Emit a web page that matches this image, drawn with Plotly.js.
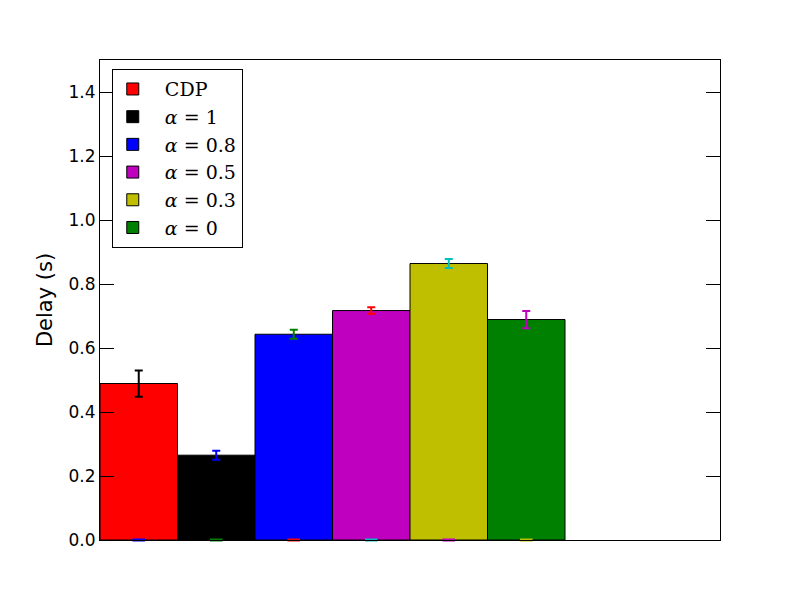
<!DOCTYPE html>
<html>
<head>
<meta charset="utf-8">
<script src="https://cdn.plot.ly/plotly-3.0.1.min.js"></script>
<style>html,body{margin:0;padding:0;background:#fff;}#chart{width:800px;height:600px;}</style>
</head>
<body>
<div id="chart"></div>
<script>
// Data
const seriesNames = ["CDP", "α = 1", "α = 0.8", "α = 0.5", "α = 0.3", "α = 0"];
const positions = [0.5, 1.5, 2.5, 3.5, 4.5, 5.5];
const delays = [0.489, 0.265, 0.643, 0.717, 0.864, 0.689];
const errors = [0.041, 0.014, 0.014, 0.010, 0.014, 0.027];
const barColors = ["#ff0000", "#000000", "#0000ff", "#bf00bf", "#bfbf00", "#008000"];
const errColors = ["#000000", "#0000ff", "#008000", "#ff0000", "#00bfbf", "#bf00bf"];
const baseMarkColors = ["#0000ff", "#008000", "#ff0000", "#00bfbf", "#bf00bf", "#bfbf00"];
const yTicks = [0.0, 0.2, 0.4, 0.6, 0.8, 1.0, 1.2, 1.4];

function legendLabel(name, i) {
  const pad = "&nbsp;&nbsp;";
  if (i === 0) return pad + name;
  const parts = name.split(" = ");
  return pad + "<i>" + parts[0] + "</i> = " + parts[1];
}

const traces = seriesNames.map((name, i) => ({
  type: "bar",
  name: legendLabel(name, i),
  x: [positions[i]],
  y: [delays[i]],
  width: 1,
  marker: {color: barColors[i], line: {color: "#000000", width: 1}},
  error_y: {type: "data", array: [errors[i]], visible: true, color: errColors[i], thickness: 2, width: 4},
  hoverinfo: "none"
}));

traces.push({
  type: "scatter",
  mode: "markers",
  x: positions,
  y: positions.map(() => 0),
  marker: {symbol: "line-ew", size: 9, color: baseMarkColors, line: {width: 3, color: baseMarkColors}},
  cliponaxis: false,
  showlegend: false,
  hoverinfo: "none"
});

const layout = {
  width: 800,
  height: 600,
  margin: {l: 100, r: 80, t: 60, b: 60},
  paper_bgcolor: "#ffffff",
  plot_bgcolor: "#ffffff",
  barmode: "overlay",
  showlegend: true,
  font: {family: "DejaVu Sans", size: 17, color: "#000000"},
  xaxis: {
    range: [0, 8],
    showticklabels: false,
    ticks: "",
    showgrid: false,
    zeroline: false,
    showline: true,
    linecolor: "#000000",
    linewidth: 1,
    mirror: true,
    fixedrange: true
  },
  yaxis: {
    range: [0, 1.5],
    tickvals: yTicks,
    ticktext: yTicks.map(v => v.toFixed(1)),
    ticks: "inside",
    ticklen: 14,
    tickwidth: 1,
    tickcolor: "#000000",
    showgrid: false,
    zeroline: false,
    showline: true,
    linecolor: "#000000",
    linewidth: 1,
    mirror: "ticks",
    tickfont: {family: "DejaVu Sans", size: 17},
    title: {text: "Delay (s)", font: {family: "DejaVu Sans", size: 21}, standoff: 10},
    fixedrange: true
  },
  legend: {
    x: 0.019,
    y: 0.981,
    xanchor: "left",
    yanchor: "top",
    bgcolor: "#ffffff",
    bordercolor: "#000000",
    borderwidth: 1,
    font: {family: "DejaVu Serif, serif", size: 19},
    traceorder: "normal"
  }
};

Plotly.newPlot("chart", traces, layout, {displayModeBar: false, staticPlot: true});
</script>
</body>
</html>
